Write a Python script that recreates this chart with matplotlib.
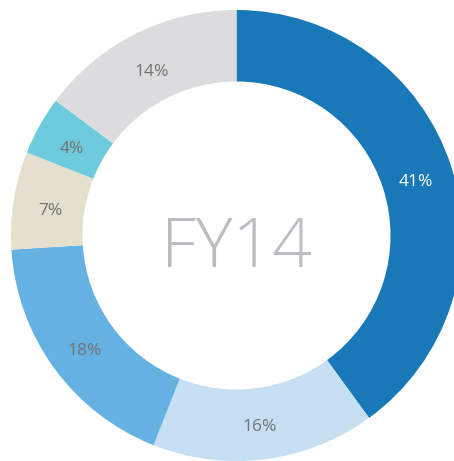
import matplotlib
matplotlib.use('Agg')
from matplotlib import pyplot as plt

# Slice sizes as measured from the arcs, clockwise from 12 o'clock,
# with the printed (rounded) labels kept separately
shares = [40.0, 16.0, 18.0, 7.0, 4.2, 14.8]
labels = ['41%', '16%', '18%', '7%', '4%', '14%']
colors = ['#1878b8', '#c6dff2', '#65b1e2', '#e5dfce', '#6dcbdd', '#dcdcde']
label_colors = ['white', '#737373', '#737373', '#737373', '#737373', '#737373']
center_text = 'FY14'

W, H = 454, 461
cx, cy, R = 236.5, 235.5, 225.5  # pixel centre and outer radius

fig = plt.figure(figsize=(W / 100, H / 100), dpi=100)
ax = fig.add_axes([0, 0, 1, 1])

wedges, texts = ax.pie(shares, colors=colors, startangle=90, counterclock=False,
                       radius=1, labels=labels, labeldistance=0.835,
                       wedgeprops=dict(width=0.317, linewidth=0),
                       textprops=dict(fontsize=12.5, family=['Open Sans', 'DejaVu Sans']))
# labels sit a few pixels lower in the original
for t, c in zip(texts, label_colors):
    t.set_color(c)
    t.set_ha('center')
    t.set_va('center')
    x, y = t.get_position()
    t.set_position((x, y - 5 / R))

ax.text(0, (cy - 267) / R, center_text, ha='center', va='baseline', fontsize=50,
        color='#bcbdc1', family=['Open Sans', 'DejaVu Sans'], fontweight='light')

ax.set_xlim(-cx / R, (W - cx) / R)
ax.set_ylim(-(H - cy) / R, cy / R)
ax.set_aspect('auto')
ax.axis('off')

fig.savefig('out.png', dpi=100)
